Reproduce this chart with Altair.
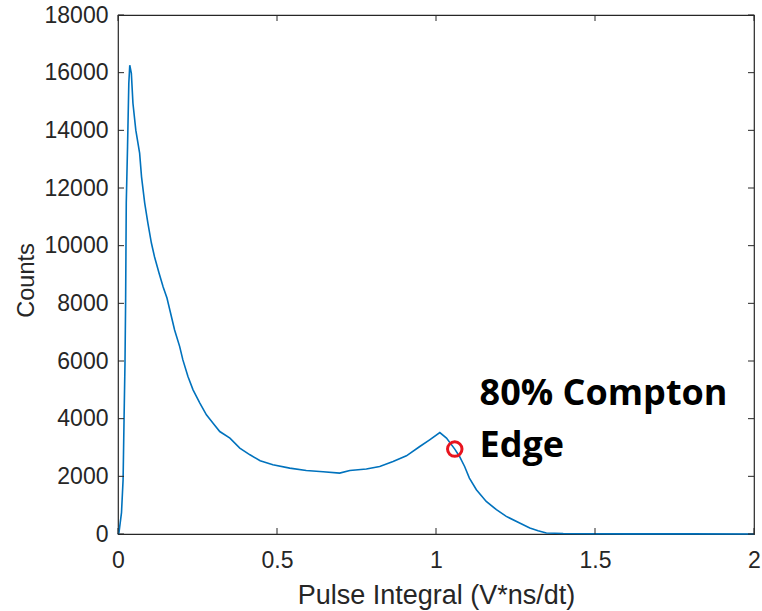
import altair as alt
import pandas as pd

# Spectrum
pulse = [0.0, 0.003, 0.011, 0.016, 0.019, 0.022, 0.024, 0.026, 0.030, 0.034, 0.037,
         0.042, 0.047, 0.056, 0.068, 0.074, 0.084, 0.094, 0.105, 0.115, 0.129,
         0.142, 0.154, 0.163, 0.178, 0.194, 0.204, 0.220, 0.236, 0.257, 0.278,
         0.299, 0.320, 0.352, 0.383, 0.415, 0.447, 0.487, 0.540, 0.592, 0.645,
         0.697, 0.729, 0.781, 0.823, 0.865, 0.907, 0.949, 0.980, 1.012, 1.033,
         1.059, 1.074, 1.090, 1.105, 1.127, 1.158, 1.190, 1.221, 1.263, 1.295,
         1.321, 1.347, 1.40, 1.50, 1.60, 1.80, 2.00]
counts = [0, 45, 738, 1881, 3960, 5934, 8116, 11476, 13426, 15633, 16257,
          15980, 14940, 14005, 13208, 12387, 11476, 10784, 10091, 9606, 9052,
          8567, 8186, 7770, 7077, 6499, 6038, 5459, 4999, 4548, 4133,
          3845, 3554, 3325, 2979, 2747, 2539, 2401, 2286, 2203, 2158,
          2113, 2203, 2252, 2342, 2515, 2712, 3034, 3267, 3519, 3325,
          2944, 2688, 2342, 1940, 1535, 1129, 842, 610, 381, 208,
          114, 35, 15, 8, 5, 3, 2]

edge_x = [1.059]
edge_y = [2944]

note_text = ["80% Compton", "Edge"]
note_x = [1.137, 1.137]
note_y = [4479, 2678]

x_ticks = [0, 0.5, 1, 1.5, 2]
y_ticks = [0, 2000, 4000, 6000, 8000, 10000, 12000, 14000, 16000, 18000]

W, H = 636, 519
AX = "#262626"

xs = alt.Scale(domain=[0, 2], nice=False, zero=False)
ys = alt.Scale(domain=[0, 18000], nice=False)

x_axis = alt.Axis(values=x_ticks, format="~g", title="Pulse Integral (V*ns/dt)",
                  labelPadding=15, labelFlush=False, titleFontSize=27,
                  titleBaseline="alphabetic", titleY=69)
y_axis = alt.Axis(values=y_ticks, format="d", title="Counts",
                  labelPadding=10, labelFlush=False, titleFontSize=23.5,
                  titleBaseline="alphabetic", titleX=-85, titleY=265, titleAngle=-90)
X = alt.X("x:Q", scale=xs, axis=x_axis, title="Pulse Integral (V*ns/dt)")
Y = alt.Y("y:Q", scale=ys, axis=y_axis, title="Counts")

df = pd.DataFrame({"x": pulse, "y": counts})
line = alt.Chart(df).mark_line(color="#0072BD", strokeWidth=1.6).encode(x=X, y=Y)

edge = alt.Chart(pd.DataFrame({"x": edge_x, "y": edge_y})).mark_point(
    shape="circle", filled=False, color="#E8141E", strokeWidth=3, size=210, opacity=1
).encode(x=X, y=Y)

note = alt.Chart(pd.DataFrame({"x": note_x, "y": note_y, "t": note_text})).mark_text(
    font="Open Sans", fontWeight="bold", fontSize=36, align="left",
    baseline="alphabetic", color="black"
).encode(x=X, y=Y, text="t:N")

xt = pd.DataFrame({"x": x_ticks})
yt = pd.DataFrame({"y": y_ticks})
tick_bottom = alt.Chart(xt).mark_rule(color=AX, strokeWidth=1).encode(
    x=X, y=alt.value(H), y2=alt.value(H - 6))
tick_top = alt.Chart(xt).mark_rule(color=AX, strokeWidth=1).encode(
    x=X, y=alt.value(0), y2=alt.value(6))
tick_left = alt.Chart(yt).mark_rule(color=AX, strokeWidth=1).encode(
    y=Y, x=alt.value(0), x2=alt.value(6))
tick_right = alt.Chart(yt).mark_rule(color=AX, strokeWidth=1).encode(
    y=Y, x=alt.value(W), x2=alt.value(W - 6))

chart = alt.layer(line, tick_bottom, tick_top, tick_left, tick_right, edge, note).properties(
    width=W, height=H,
    autosize=alt.AutoSizeParams(type="none"),
    padding={"left": 118, "top": 15, "right": 8, "bottom": 77},
    background="white",
).configure_view(stroke=AX, strokeWidth=1.2).configure_axis(
    labelFont="Liberation Sans", labelFontSize=23, labelColor=AX,
    titleFont="Liberation Sans", titleFontWeight="normal", titleColor=AX,
    domain=False, ticks=False, tickSize=0, grid=False,
)

chart.save("out.html", embed_options={"renderer": "svg", "actions": False})
